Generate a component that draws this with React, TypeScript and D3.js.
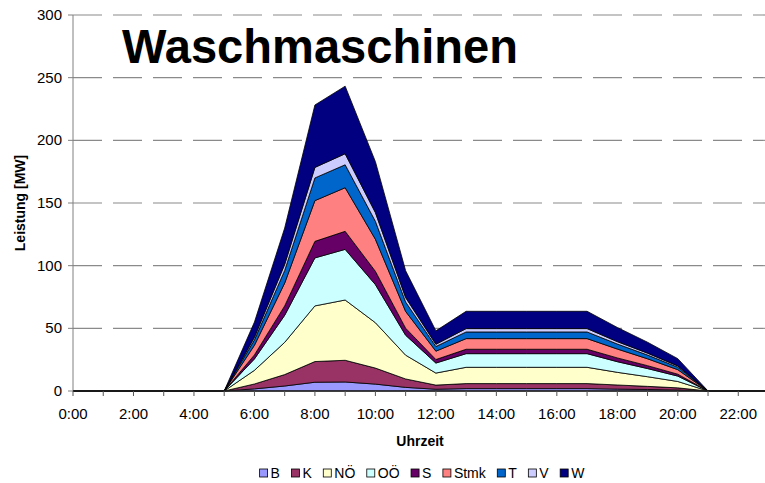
import React from "react";
import * as d3 from "d3";

const hours: number[] = Array.from({ length: 24 }, (_, i) => i);
const tickLabels: string[] = ["0:00", "2:00", "4:00", "6:00", "8:00", "10:00", "12:00", "14:00", "16:00", "18:00", "20:00", "22:00"];
const yTicks: number[] = [0, 50, 100, 150, 200, 250, 300];

const seriesNames: string[] = ["B", "K", "NÖ", "OÖ", "S", "Stmk", "T", "V", "W"];
const seriesColors: string[] = ["#9999FF", "#993366", "#FFFFCC", "#CCFFFF", "#660066", "#FF8080", "#0066CC", "#CCCCFF", "#000080"];

// values for hours 0:00 .. 23:00
const B: number[] =    [0, 0, 0, 0, 0, 0, 1.7, 4.0, 7.0, 7.2, 5.5, 2.9, 1.4, 1.9, 1.9, 1.9, 1.9, 1.9, 1.5, 1.2, 0.8, 0, 0, 0];
const K: number[] =    [0, 0, 0, 0, 0, 0, 3.9, 9.1, 16.5, 17.3, 12.8, 6.7, 3.3, 4.0, 4.0, 4.0, 4.0, 4.0, 3.3, 2.5, 1.7, 0, 0, 0];
const NOE: number[] =  [0, 0, 0, 0, 0, 0, 10.9, 25.7, 44.4, 48.1, 36.2, 19.0, 9.6, 13.0, 13.0, 13.0, 13.0, 13.0, 10.1, 7.7, 5.1, 0, 0, 0];
const OOE: number[] =  [0, 0, 0, 0, 0, 0, 9.1, 21.6, 38.3, 40.4, 30.4, 15.9, 8.0, 10.9, 10.9, 10.9, 10.9, 10.9, 8.5, 6.5, 4.3, 0, 0, 0];
const S: number[] =    [0, 0, 0, 0, 0, 0, 3.2, 7.5, 13.2, 14.4, 10.6, 5.6, 2.8, 3.5, 3.5, 3.5, 3.5, 3.5, 3.0, 2.3, 1.5, 0, 0, 0];
const Stmk: number[] = [0, 0, 0, 0, 0, 0, 7.7, 18.2, 32.5, 34.8, 25.6, 13.4, 6.7, 8.5, 8.5, 8.5, 8.5, 8.5, 7.1, 5.5, 3.6, 0, 0, 0];
const T: number[] =    [0, 0, 0, 0, 0, 0, 4.3, 10.1, 18.1, 18.3, 14.3, 7.5, 3.7, 5.3, 5.3, 5.3, 5.3, 5.3, 4.0, 3.0, 2.0, 0, 0, 0];
const V: number[] =    [0, 0, 0, 0, 0, 0, 2.1, 4.9, 8.4, 8.8, 7.0, 3.6, 1.8, 2.7, 2.7, 2.7, 2.7, 2.7, 1.9, 1.5, 1.0, 0, 0, 0];
const W: number[] =    [0, 0, 0, 0, 0, 0, 12.1, 28.9, 49.8, 53.9, 40.6, 21.4, 10.7, 13.8, 13.8, 13.8, 13.8, 13.8, 11.3, 8.7, 5.8, 0, 0, 0];

const seriesValues: number[][] = [B, K, NOE, OOE, S, Stmk, T, V, W];

const FONT = "'Liberation Sans', Arial, Helvetica, sans-serif";

function measure(text: string, font: string): number {
  const c = document.createElement("canvas");
  const ctx = c.getContext("2d");
  if (!ctx) return text.length * 8;
  ctx.font = font;
  return ctx.measureText(text).width;
}

export default function App() {
  const width = 765;
  const height = 483;
  const left = 73;
  const top = 15;
  const bottom = 391;
  const hourStep = 30.24;

  const x = d3.scaleLinear().domain([0, 23]).range([left, left + 23 * hourStep]);
  const y = d3.scaleLinear().domain([0, 300]).range([bottom, top]);

  const table = hours.map((h, i) => {
    const row: Record<string, number> = { hour: h };
    seriesNames.forEach((n, j) => (row[n] = seriesValues[j][i]));
    return row;
  });
  const stacked = d3.stack<Record<string, number>>().keys(seriesNames)(table);
  const area = d3
    .area<d3.SeriesPoint<Record<string, number>>>()
    .x((d) => x(d.data.hour))
    .y0((d) => y(d[0]))
    .y1((d) => y(d[1]));

  // legend layout
  const legendSize = 14;
  const legendFont = `${legendSize}px ${FONT}`;
  const sq = 8;
  const gapSqText = 3;
  const itemGap = 11.5;
  const widths = seriesNames.map((n) => sq + gapSqText + measure(n, legendFont));
  const total = widths.reduce((a, b) => a + b, 0) + itemGap * (seriesNames.length - 1);
  let cursor = 422 - total / 2;
  const legendItems = seriesNames.map((n, i) => {
    const pos = cursor;
    cursor += widths[i] + itemGap;
    return { name: n, color: seriesColors[i], x: pos };
  });

  return (
    <svg
      width={width}
      height={height}
      style={{ position: "absolute", left: 0, top: 0, background: "#fff" }}
      fontFamily={FONT}
    >
      <rect x={0} y={0} width={width} height={height} fill="#fff" />
      {/* gridlines */}
      {yTicks.filter((t) => t > 0).map((t) => (
        <line
          key={t}
          x1={left}
          x2={width}
          y1={y(t)}
          y2={y(t)}
          stroke="#8a8a8a"
          strokeWidth={1.1}
          strokeDasharray="29,11"
        />
      ))}
      {/* title */}
      <text x={122} y={63} fontSize={48} fontWeight="bold" fill="#000" textLength={396} lengthAdjust="spacingAndGlyphs">
        Waschmaschinen
      </text>
      {/* areas */}
      {stacked.map((s, i) => (
        <path key={s.key} d={area(s) || ""} fill={seriesColors[i]} stroke="#000" strokeWidth={0.8} strokeLinejoin="round" />
      ))}
      {/* y axis */}
      <line x1={left} x2={left} y1={top} y2={bottom} stroke="#808080" strokeWidth={1} />
      {yTicks.map((t) => (
        <g key={t}>
          <line x1={left - 5} x2={left} y1={y(t)} y2={y(t)} stroke="#808080" strokeWidth={1} />
          <text x={left - 11} y={y(t) + 5} fontSize={15} textAnchor="end" fill="#000">
            {t}
          </text>
        </g>
      ))}
      {/* x axis */}
      <line x1={left} x2={width} y1={bottom} y2={bottom} stroke="#222" strokeWidth={1.5} />
      {hours.map((h) => (
        <line key={h} x1={x(h)} x2={x(h)} y1={bottom} y2={bottom + 5} stroke="#555" strokeWidth={1} />
      ))}
      {tickLabels.map((lab, i) => (
        <text key={lab} x={x(i * 2)} y={419} fontSize={15} textAnchor="middle" fill="#000">
          {lab}
        </text>
      ))}
      <text x={420} y={446} fontSize={14} fontWeight="bold" textAnchor="middle" fill="#000">
        Uhrzeit
      </text>
      <text
        transform={`translate(25,203) rotate(-90)`}
        fontSize={14}
        fontWeight="bold"
        textAnchor="middle"
        fill="#000"
      >
        Leistung [MW]
      </text>
      {/* legend */}
      {legendItems.map((it) => (
        <g key={it.name}>
          <rect x={it.x} y={469} width={sq} height={sq} fill={it.color} stroke="#000" strokeWidth={0.8} />
          <text x={it.x + sq + gapSqText} y={478} fontSize={legendSize} fill="#000">
            {it.name}
          </text>
        </g>
      ))}
    </svg>
  );
}
